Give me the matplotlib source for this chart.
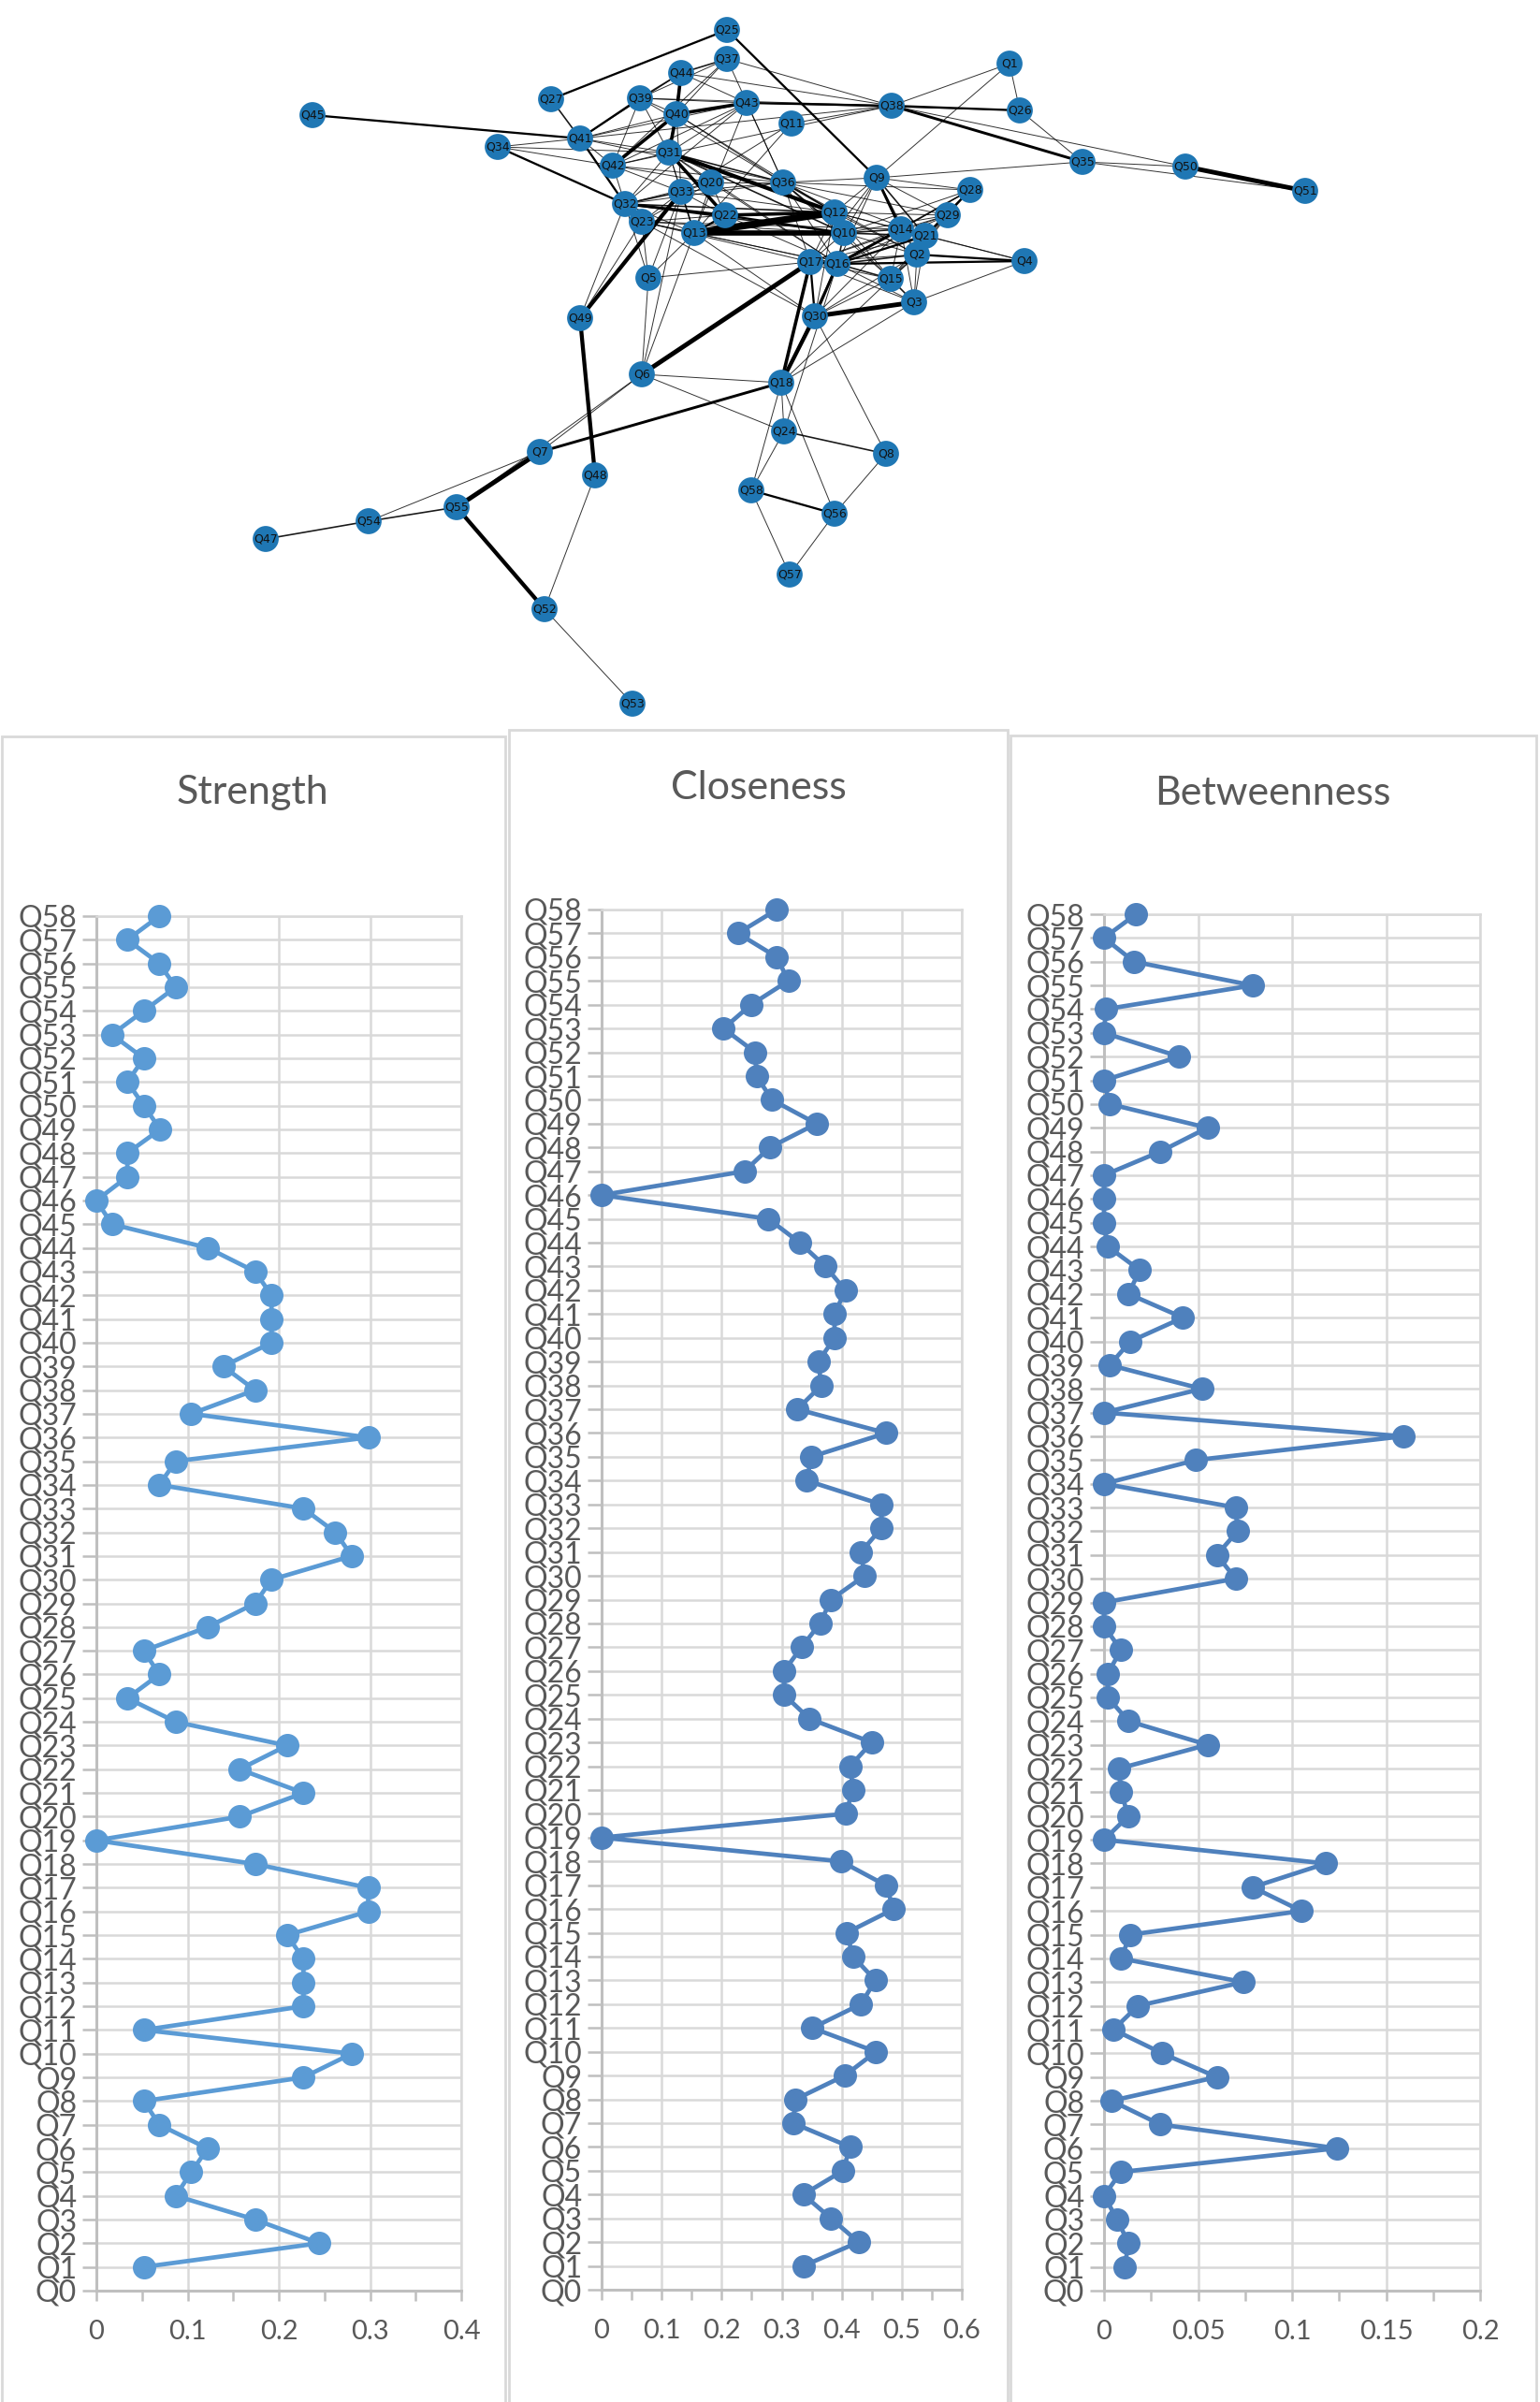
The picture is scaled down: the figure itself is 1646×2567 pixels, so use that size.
import numpy as np
import matplotlib
matplotlib.use("Agg")
import matplotlib.pyplot as plt
from matplotlib.collections import LineCollection
from matplotlib.patches import Rectangle
from matplotlib.ticker import FuncFormatter, MultipleLocator

W, H = 1646, 2567

# ---- network layout (image-space coordinates) ----
net_nodes = [1, 2, 3, 4, 5, 6, 7, 8, 9, 10, 11, 12, 13, 14, 15, 16, 17, 18, 20,
             21, 22, 23, 24, 25, 26, 27, 28, 29, 30, 31, 32, 33, 34, 35, 36, 37,
             38, 39, 40, 41, 42, 43, 44, 45, 47, 48, 49, 50, 51, 52, 53, 54, 55,
             56, 57, 58]
net_x = [1079, 980, 977, 1095, 693, 686, 577, 947, 937, 902, 846, 892, 742, 963,
         952, 895, 866, 835, 760, 989, 775, 686, 838, 777, 1090, 589, 1037, 1013,
         871, 715, 668, 728, 532, 1157, 837, 777, 953, 684, 723, 620, 655, 798,
         728, 334, 284, 636, 620, 1267, 1395, 582, 676, 394, 488, 892, 844, 803]
net_y = [68, 272, 323, 279, 297, 400, 483, 485, 190, 249, 132, 227, 249, 245,
         298, 282, 280, 409, 195, 252, 230, 237, 461, 32, 118, 106, 203, 230,
         338, 163, 218, 205, 157, 173, 195, 63, 113, 105, 122, 148, 177, 110,
         78, 123, 576, 508, 340, 178, 204, 651, 752, 557, 542, 549, 614, 524]

# (node a, node b, weight)
edges = [
    (45, 41, 2), (25, 27, 2), (25, 9, 2), (27, 41, 1.5), (47, 54, 1.5), (54, 55, 1.5), (54, 7, 1),
    (55, 7, 4), (55, 52, 3.5), (55, 6, 1), (52, 48, 1), (52, 53, 1), (48, 49, 3.5),
    (49, 33, 3.5), (49, 32, 1), (49, 23, 1),
    (7, 18, 2.5), (7, 6, 1),
    (6, 17, 4), (6, 18, 1), (6, 24, 1), (6, 5, 1), (6, 13, 1), (6, 33, 1),
    (18, 30, 3.5), (18, 17, 3), (18, 24, 1), (18, 56, 1), (18, 58, 1), (18, 3, 1), (18, 15, 1), (18, 16, 1),
    (24, 8, 1.5), (24, 58, 1), (24, 16, 1),
    (8, 56, 1), (8, 30, 1),
    (58, 56, 2), (58, 57, 1), (56, 57, 1),
    (51, 50, 4), (51, 35, 1), (50, 38, 1), (50, 35, 1),
    (35, 38, 2.5), (35, 26, 1), (35, 9, 1),
    (26, 1, 1), (26, 38, 2), (26, 43, 1),
    (1, 38, 1), (1, 9, 1),
    (38, 37, 1), (38, 44, 1), (38, 43, 2), (38, 39, 1), (38, 41, 1), (38, 42, 1), (38, 11, 1),
    (11, 13, 1), (11, 33, 1),
    (4, 2, 2), (4, 16, 2), (4, 14, 1), (4, 3, 1), (4, 21, 1),
    (28, 29, 1), (28, 16, 1.5), (28, 14, 1), (28, 9, 1), (28, 21, 2), (28, 10, 1), (28, 36, 1),
    (29, 21, 1.5), (29, 14, 1), (29, 10, 1), (29, 16, 1), (29, 12, 1), (29, 9, 1), (29, 2, 1), (29, 15, 1), (29, 36, 1),
    (3, 30, 4), (3, 2, 1), (3, 15, 1.5), (3, 16, 1), (3, 17, 1), (3, 14, 1), (3, 21, 1),
    (30, 17, 2), (30, 16, 2.5), (30, 15, 1), (30, 2, 1), (30, 14, 1), (30, 13, 1), (30, 12, 1),
    (5, 32, 1), (5, 33, 1), (5, 13, 1), (5, 17, 1), (5, 23, 1),
    (37, 44, 1.5), (37, 39, 1), (37, 40, 1), (37, 36, 1), (37, 42, 1),
    (44, 40, 3), (44, 39, 1.5), (44, 43, 1), (44, 41, 1), (44, 31, 1),
    (39, 41, 2), (39, 40, 1), (39, 43, 1), (39, 31, 1), (39, 42, 1), (39, 36, 1),
    (40, 43, 3), (40, 42, 3), (40, 41, 1), (40, 31, 3), (40, 36, 1), (40, 12, 1), (40, 33, 1),
    (43, 41, 1), (43, 42, 1), (43, 36, 1), (43, 31, 1), (43, 32, 1), (43, 13, 1),
    (41, 34, 1), (41, 42, 1), (41, 32, 2), (41, 31, 1), (41, 36, 1),
    (34, 32, 2), (34, 42, 1), (34, 31, 1),
    (42, 31, 1), (42, 32, 1), (42, 33, 1), (42, 20, 1), (42, 36, 1),
    (31, 22, 3), (31, 12, 3.5), (31, 33, 1), (31, 20, 1), (31, 36, 1.5), (31, 32, 1), (31, 10, 1.5), (31, 13, 1), (31, 16, 1),
    (36, 12, 1.5), (36, 10, 1.5), (36, 17, 1), (36, 16, 1), (36, 9, 1), (36, 20, 1), (36, 32, 1), (36, 33, 1),
    (9, 12, 1), (9, 14, 2.5), (9, 21, 1.5), (9, 10, 1), (9, 16, 1), (9, 17, 1), (9, 2, 1),
    (12, 13, 6), (12, 22, 3), (12, 10, 1.5), (12, 14, 1), (12, 21, 1), (12, 32, 1.5), (12, 33, 1),
    (10, 13, 4.5), (10, 22, 2), (10, 14, 1.5), (10, 21, 1.5), (10, 2, 1), (10, 16, 1.5), (10, 17, 1), (10, 15, 1), (10, 32, 1.5), (10, 23, 1),
    (13, 22, 2), (13, 32, 1), (13, 23, 1), (13, 33, 1.5), (13, 20, 1), (13, 16, 1),
    (22, 32, 2.5), (22, 23, 1), (22, 33, 1), (22, 20, 1), (22, 16, 1),
    (20, 33, 1), (20, 32, 1), (20, 23, 1), (20, 16, 1),
    (33, 32, 1.5), (33, 23, 1), (32, 23, 1),
    (23, 17, 1), (23, 16, 1), (23, 30, 1), (23, 14, 1),
    (17, 16, 2), (17, 14, 1), (17, 2, 1), (17, 15, 1), (17, 21, 1), (17, 12, 1), (17, 29, 1),
    (16, 14, 2.5), (16, 21, 2), (16, 2, 1.5), (16, 15, 1.5),
    (14, 21, 2), (14, 2, 1), (14, 15, 1),
    (21, 2, 1.5), (21, 15, 1), (21, 36, 1),
    (2, 15, 1.5), (2, 36, 1), (2, 12, 1),
    (15, 12, 1), (15, 36, 1),
]

# ---- centrality values, Q1..Q58 (Q0 has no value) ----
categories = ["Q%d" % i for i in range(59)]

strength = [0.052, 0.244, 0.174, 0.087, 0.104, 0.122, 0.069, 0.052, 0.227, 0.280,
            0.052, 0.227, 0.227, 0.227, 0.209, 0.298, 0.298, 0.174, 0.0, 0.157,
            0.227, 0.157, 0.209, 0.087, 0.034, 0.069, 0.052, 0.122, 0.174, 0.192,
            0.280, 0.262, 0.227, 0.069, 0.087, 0.298, 0.104, 0.174, 0.139, 0.192,
            0.192, 0.192, 0.174, 0.122, 0.017, 0.0, 0.034, 0.034, 0.070, 0.052,
            0.034, 0.052, 0.017, 0.052, 0.087, 0.069, 0.034, 0.069]

closeness = [0.336, 0.428, 0.382, 0.336, 0.402, 0.414, 0.319, 0.323, 0.405, 0.457,
             0.351, 0.432, 0.456, 0.419, 0.408, 0.487, 0.473, 0.399, 0.0, 0.406,
             0.419, 0.414, 0.450, 0.346, 0.304, 0.304, 0.333, 0.364, 0.382, 0.438,
             0.432, 0.466, 0.466, 0.342, 0.349, 0.474, 0.326, 0.366, 0.361, 0.388,
             0.388, 0.406, 0.373, 0.330, 0.278, 0.0, 0.238, 0.280, 0.358, 0.284,
             0.258, 0.256, 0.203, 0.249, 0.311, 0.292, 0.227, 0.292]

betweenness = [0.011, 0.013, 0.007, 0.0, 0.009, 0.124, 0.030, 0.004, 0.060, 0.031,
               0.005, 0.018, 0.074, 0.009, 0.014, 0.105, 0.079, 0.118, 0.0, 0.013,
               0.009, 0.008, 0.055, 0.013, 0.002, 0.002, 0.009, 0.0, 0.0, 0.070,
               0.060, 0.071, 0.070, 0.0, 0.049, 0.159, 0.0, 0.052, 0.003, 0.014,
               0.042, 0.013, 0.019, 0.002, 0.0, 0.0, 0.0, 0.030, 0.055, 0.003,
               0.0, 0.040, 0.0, 0.001, 0.079, 0.016, 0.0, 0.017]

plt.rcParams['font.family'] = ['Lato', 'DejaVu Sans']
TXT = '#595959'
GRID = '#D9D9D9'
AXIS = '#BFBFBF'

fig = plt.figure(figsize=(W / 100, H / 100), dpi=100)
fig.patch.set_facecolor('white')


def fx(px):
    return px / W


def fy(py):
    return 1 - py / H


# ---- network ----
ax_net = fig.add_axes([0, fy(780), 1, 780 / H])
ax_net.set_xlim(0, W)
ax_net.set_ylim(780, 0)
ax_net.axis('off')

pos = {n: (x, y) for n, x, y in zip(net_nodes, net_x, net_y)}
uniq = {}
for a, b, w in edges:
    uniq[frozenset((a, b))] = (a, b, w)
segs, widths, cols = [], [], []
for a, b, w in uniq.values():
    segs.append([pos[a], pos[b]])
    widths.append(0.7 + 0.95 * (w - 1))
    cols.append((0, 0, 0, min(1.0, 0.6 + 0.2 * w)))
ax_net.add_collection(LineCollection(segs, linewidths=widths, colors=cols, zorder=1))
ax_net.scatter(net_x, net_y, s=400, color='#1f77b4', edgecolors='none', zorder=2)
for n, x, y in zip(net_nodes, net_x, net_y):
    ax_net.text(x, y, "Q%d" % n, ha='center', va='center', fontsize=9,
                family='DejaVu Sans', color='#111111', zorder=3)


# ---- centrality panels ----
def panel(box, axpos, title, title_xy, values, color, xmax, major, minor):
    x0, y0, x1 = box
    fig.add_artist(Rectangle((fx(x0), fy(2600)), fx(x1 - x0), (2600 - y0) / H,
                             transform=fig.transFigure, fill=False,
                             edgecolor=GRID, lw=2))
    fig.text(fx(title_xy[0]), fy(title_xy[1]), title, ha='center', va='center',
             fontsize=31, color=TXT)
    left, right, top, bottom = axpos
    ax = fig.add_axes([fx(left), fy(bottom), fx(right - left), (bottom - top) / H])
    ypos = np.arange(1, 59)
    ax.plot(values, ypos, color=color, lw=3.4, marker='o', ms=17,
            clip_on=False, zorder=3)
    ax.set_xlim(0, xmax)
    ax.set_ylim(0, 58)
    ax.set_yticks(np.arange(0, 59))
    ax.set_yticklabels(categories)
    ax.xaxis.set_major_locator(MultipleLocator(major))
    ax.xaxis.set_minor_locator(MultipleLocator(minor))
    ax.xaxis.set_major_formatter(FuncFormatter(lambda v, p: '%g' % round(v, 3)))
    ax.grid(True, which='major', color=GRID, lw=1.8)
    ax.set_axisbelow(True)
    for s in ['top', 'right']:
        ax.spines[s].set_color(GRID)
        ax.spines[s].set_linewidth(1.8)
    for s in ['left', 'bottom']:
        ax.spines[s].set_color(AXIS)
        ax.spines[s].set_linewidth(2.2)
    ax.tick_params(axis='y', length=11, width=1.8, color=AXIS, labelcolor=TXT,
                   labelsize=23, pad=4)
    ax.tick_params(axis='x', which='both', length=8, width=1.8, color=AXIS,
                   labelcolor=TXT, labelsize=21, pad=14)
    return ax


panel((2, 787, 540), (103, 493, 979, 2448), 'Strength', (270, 847),
      strength, '#5B9BD5', 0.4, 0.1, 0.05)
panel((544, 780, 1077), (643, 1028, 972, 2447), 'Closeness', (811, 842),
      closeness, '#4F81BD', 0.6, 0.1, 0.05)
panel((1080, 786, 1642), (1180, 1582, 977, 2448), 'Betweenness', (1360, 848),
      betweenness, '#4F81BD', 0.2, 0.05, 0.025)

fig.savefig('out.png', dpi=100)
